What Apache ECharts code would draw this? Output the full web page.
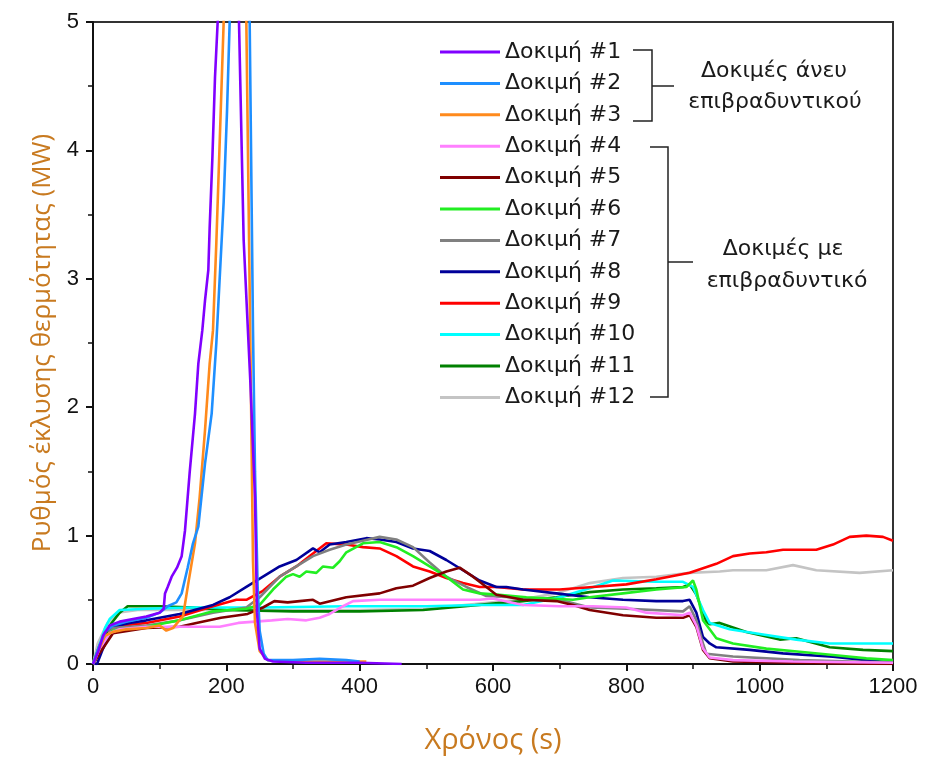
<!DOCTYPE html>
<html>
<head>
<meta charset="utf-8">
<script src="https://cdn.jsdelivr.net/npm/echarts@6/dist/echarts.min.js"></script>
<style>
  html, body { margin: 0; padding: 0; background: #fff; }
  #chart { width: 930px; height: 758px; }
</style>
</head>
<body>
<div id="chart"></div>
<script>
// Heat release rate curves, [time s, MW]
const test1 = [[0,0],[8,0.1],[15,0.22],[25,0.3],[40,0.33],[60,0.35],[80,0.37],[100,0.4],[106,0.43],[108,0.55],[112,0.6],[118,0.68],[126,0.75],[133,0.84],[138,1.04],[145,1.49],[153,1.95],[158,2.34],[164,2.6],[168,2.83],[173,3.07],[175,3.4],[179,3.93],[183,4.57],[187,5.0],[195,6.2],[205,6.8],[214,6.0],[219,5.0],[226,3.3],[236,2.2],[243,1.3],[246,0.4],[250,0.12],[258,0.04],[270,0.02],[320,0.01],[400,0.01],[463,0]];
const test2 = [[0,0],[8,0.12],[18,0.25],[30,0.3],[50,0.33],[80,0.36],[100,0.4],[112,0.45],[125,0.48],[133,0.55],[142,0.75],[150,0.94],[158,1.07],[168,1.56],[178,1.95],[185,2.5],[196,3.6],[201,4.3],[205,5.0],[215,6.5],[228,6.8],[235,5.0],[240,2.6],[243,1.5],[247,0.6],[250,0.26],[256,0.08],[262,0.03],[300,0.03],[340,0.04],[380,0.03],[400,0.02]];
const test3 = [[0,0],[8,0.1],[18,0.22],[30,0.25],[50,0.27],[80,0.28],[100,0.3],[110,0.26],[120,0.28],[128,0.33],[135,0.37],[143,0.63],[153,0.94],[160,1.3],[168,1.82],[175,2.34],[180,2.6],[185,3.28],[190,4.06],[196,5.0],[205,6.5],[222,6.6],[230,5.0],[236,2.5],[240,0.8],[243,0.32],[250,0.1],[262,0.03],[300,0.02],[350,0.02],[410,0.02]];
const test4 = [[0,0],[10,0.12],[25,0.24],[40,0.27],[80,0.29],[130,0.29],[190,0.29],[218,0.32],[268,0.34],[292,0.35],[320,0.34],[340,0.36],[355,0.39],[375,0.45],[390,0.49],[430,0.5],[480,0.5],[530,0.5],[580,0.5],[600,0.51],[645,0.46],[700,0.45],[750,0.45],[800,0.44],[830,0.4],[885,0.38],[895,0.4],[905,0.3],[915,0.12],[925,0.05],[960,0.03],[1050,0.02],[1200,0.01]];
const test5 = [[0,0],[12,0.1],[30,0.24],[80,0.28],[130,0.29],[155,0.32],[192,0.36],[232,0.39],[255,0.44],[272,0.49],[292,0.48],[310,0.49],[330,0.5],[340,0.47],[380,0.52],[430,0.55],[455,0.59],[480,0.61],[505,0.67],[530,0.72],[550,0.75],[570,0.68],[590,0.6],[605,0.54],[645,0.5],[695,0.49],[720,0.46],[745,0.42],[795,0.38],[845,0.36],[885,0.36],[895,0.38],[905,0.29],[915,0.11],[925,0.045],[960,0.02],[1050,0.01],[1200,0]];
const test6 = [[0,0],[10,0.13],[30,0.26],[80,0.29],[130,0.34],[180,0.41],[230,0.43],[250,0.46],[270,0.58],[290,0.68],[300,0.7],[310,0.68],[320,0.72],[335,0.71],[345,0.76],[360,0.75],[370,0.8],[380,0.87],[405,0.94],[430,0.95],[455,0.91],[480,0.84],[505,0.76],[530,0.68],[555,0.58],[580,0.55],[605,0.54],[650,0.52],[720,0.5],[745,0.52],[795,0.55],[845,0.58],[890,0.6],[900,0.65],[905,0.58],[915,0.34],[925,0.27],[935,0.2],[960,0.16],[1010,0.12],[1060,0.096],[1110,0.07],[1160,0.044],[1200,0.03]];
const test7 = [[0,0],[10,0.15],[30,0.28],[80,0.3],[130,0.34],[180,0.4],[230,0.44],[250,0.52],[280,0.68],[305,0.76],[330,0.84],[355,0.89],[380,0.93],[405,0.96],[430,0.99],[455,0.97],[480,0.91],[505,0.79],[530,0.68],[560,0.6],[590,0.53],[625,0.52],[700,0.5],[745,0.44],[800,0.43],[885,0.41],[895,0.45],[905,0.34],[915,0.16],[920,0.08],[960,0.058],[1060,0.03],[1200,0.01]];
const test8 = [[0,0],[6,0],[15,0.12],[30,0.29],[55,0.32],[80,0.34],[130,0.39],[180,0.46],[205,0.52],[230,0.6],[255,0.68],[280,0.76],[305,0.81],[330,0.9],[340,0.87],[355,0.93],[380,0.95],[410,0.98],[430,0.97],[455,0.95],[480,0.9],[505,0.88],[530,0.81],[555,0.73],[580,0.65],[605,0.6],[620,0.6],[645,0.58],[695,0.55],[745,0.52],[795,0.5],[845,0.49],[885,0.49],[895,0.5],[905,0.4],[915,0.21],[925,0.16],[935,0.13],[985,0.11],[1035,0.083],[1110,0.056],[1160,0.03],[1200,0.01]];
const test9 = [[0,0],[8,0.1],[30,0.29],[80,0.32],[130,0.37],[180,0.45],[215,0.5],[230,0.5],[255,0.57],[280,0.68],[305,0.76],[330,0.86],[350,0.94],[380,0.93],[405,0.91],[430,0.9],[455,0.84],[480,0.76],[505,0.72],[530,0.67],[555,0.63],[580,0.6],[605,0.6],[645,0.58],[700,0.58],[750,0.6],[800,0.62],[845,0.66],[895,0.71],[935,0.78],[960,0.84],[985,0.86],[1010,0.87],[1035,0.89],[1085,0.89],[1110,0.93],[1135,0.99],[1160,1.0],[1185,0.99],[1200,0.96]];
const test10 = [[0,0],[8,0.12],[18,0.28],[25,0.35],[40,0.42],[80,0.43],[150,0.44],[250,0.44],[380,0.45],[500,0.45],[580,0.46],[645,0.46],[700,0.52],[745,0.59],[780,0.65],[845,0.64],[885,0.64],[900,0.6],[915,0.42],[925,0.32],[955,0.27],[1005,0.23],[1055,0.19],[1105,0.16],[1155,0.16],[1200,0.16]];
const test11 = [[0,0],[10,0.1],[25,0.3],[40,0.4],[52,0.45],[100,0.45],[150,0.44],[200,0.42],[300,0.41],[400,0.41],[495,0.42],[600,0.47],[645,0.49],[695,0.52],[745,0.56],[795,0.58],[845,0.59],[885,0.6],[895,0.62],[905,0.54],[920,0.33],[925,0.31],[940,0.32],[980,0.25],[1030,0.19],[1055,0.2],[1105,0.13],[1155,0.11],[1200,0.1]];
const test12 = [[0,0],[7,0.16],[22,0.32],[37,0.4],[67,0.42],[200,0.42],[400,0.42],[500,0.43],[580,0.47],[640,0.5],[695,0.55],[745,0.63],[795,0.67],[845,0.68],[895,0.71],[940,0.72],[960,0.73],[1010,0.73],[1050,0.77],[1085,0.73],[1150,0.71],[1200,0.73]];

const names = ['Δοκιμή #1','Δοκιμή #2','Δοκιμή #3','Δοκιμή #4','Δοκιμή #5','Δοκιμή #6',
  'Δοκιμή #7','Δοκιμή #8','Δοκιμή #9','Δοκιμή #10','Δοκιμή #11','Δοκιμή #12'];
const curves = [test1, test2, test3, test4, test5, test6, test7, test8, test9, test10, test11, test12];
const colors = ['#8000ff','#1e8fff','#ff8a1c','#ff80ff','#800000','#22ee22',
  '#808080','#000099','#ff0000','#00ffff','#008000','#c4c4c4'];

const xTicks = [0, 1200, 200];
const yTicks = [0, 5, 1];

const nameColor = '#c87a20';
const txtFont = 'DejaVu Sans';

// draw with-retardant tests first so the spikes sit on top
const series = [];
for (let i = curves.length - 1; i >= 0; i--) {
  series.push({
    name: names[i],
    type: 'line',
    data: curves[i],
    symbol: 'none',
    lineStyle: { width: 2.6, color: colors[i] },
    itemStyle: { color: colors[i] },
  });
}

const chart = echarts.init(document.getElementById('chart'));
chart.setOption({
  animation: false,
  backgroundColor: '#fff',
  grid: {
    left: 93, right: 37, top: 22, bottom: 94,
    outerBoundsMode: 'none',
    show: true, borderColor: '#333', borderWidth: 2,
  },
  legend: {
    data: names,
    orient: 'vertical',
    left: 440,
    top: 41,
    padding: 0,
    icon: 'rect',
    itemWidth: 60,
    itemHeight: 3,
    itemGap: 9.4,
    textStyle: { fontFamily: txtFont, fontSize: 22, lineHeight: 22, color: '#1a1a1a' },
  },
  xAxis: {
    type: 'value',
    min: xTicks[0], max: xTicks[1], interval: xTicks[2],
    name: 'Χρόνος (s)',
    nameLocation: 'middle',
    nameGap: 62,
    nameTextStyle: { fontFamily: 'Open Sans', fontSize: 29, color: nameColor },
    axisLine: { show: true, lineStyle: { color: '#111', width: 2 } },
    axisTick: { show: true, length: 7, lineStyle: { color: '#111', width: 2 } },
    minorTick: { show: true, splitNumber: 2, length: 5, lineStyle: { color: '#111', width: 1.5 } },
    axisLabel: { fontFamily: 'Liberation Sans', fontSize: 22, color: '#111', margin: 12, formatter: v => String(v) },
    splitLine: { show: false },
  },
  yAxis: {
    type: 'value',
    min: yTicks[0], max: yTicks[1], interval: yTicks[2],
    name: 'Ρυθμός έκλυσης θερμότητας (MW)',
    nameLocation: 'middle',
    nameGap: 36,
    nameTextStyle: { fontFamily: 'Open Sans', fontSize: 26, color: nameColor },
    axisLine: { show: true, lineStyle: { color: '#111', width: 2 } },
    axisTick: { show: true, length: 7, lineStyle: { color: '#111', width: 2 } },
    minorTick: { show: true, splitNumber: 2, length: 5, lineStyle: { color: '#111', width: 1.5 } },
    axisLabel: { fontFamily: 'Liberation Sans', fontSize: 22, color: '#111', margin: 14, formatter: v => String(v) },
    splitLine: { show: false },
  },
  graphic: [
    // bracket: tests without retardant
    { type: 'polyline', shape: { points: [[633, 50], [652, 50], [652, 121], [633, 121]] },
      style: { stroke: '#222', lineWidth: 1.5, fill: null } },
    { type: 'line', shape: { x1: 652, y1: 86, x2: 674, y2: 86 }, style: { stroke: '#222', lineWidth: 1.5 } },
    { type: 'text', x: 774, y: 71, style: { text: 'Δοκιμές άνευ', font: '22px "DejaVu Sans"', fill: '#1a1a1a', align: 'center', verticalAlign: 'middle' } },
    { type: 'text', x: 775, y: 102, style: { text: 'επιβραδυντικού', font: '22px "DejaVu Sans"', fill: '#1a1a1a', align: 'center', verticalAlign: 'middle' } },
    // bracket: tests with retardant
    { type: 'polyline', shape: { points: [[650, 147], [668, 147], [668, 397], [650, 397]] },
      style: { stroke: '#222', lineWidth: 1.5, fill: null } },
    { type: 'line', shape: { x1: 668, y1: 262, x2: 693, y2: 262 }, style: { stroke: '#222', lineWidth: 1.5 } },
    { type: 'text', x: 783, y: 249, style: { text: 'Δοκιμές με', font: '22px "DejaVu Sans"', fill: '#1a1a1a', align: 'center', verticalAlign: 'middle' } },
    { type: 'text', x: 787, y: 281, style: { text: 'επιβραδυντικό', font: '22px "DejaVu Sans"', fill: '#1a1a1a', align: 'center', verticalAlign: 'middle' } },
  ],
  series,
});
</script>
</body>
</html>
